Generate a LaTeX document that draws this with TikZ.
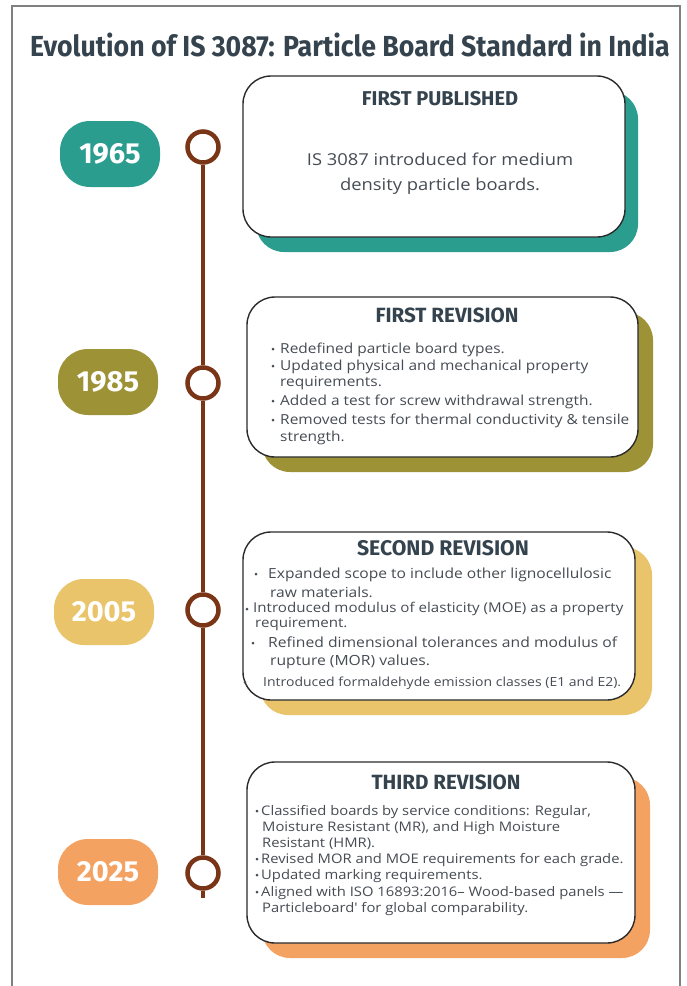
\documentclass[tikz,border=0pt]{standalone}
\usepackage{fontspec}
\usepackage{graphicx}
\setmainfont{Fira Sans}
\newfontfamily\bodyfont[FakeStretch=1.12]{Open Sans}
\definecolor{cteal}{HTML}{2A9D8F}
\definecolor{colive}{HTML}{9E9237}
\definecolor{cyellow}{HTML}{E9C46A}
\definecolor{corange}{HTML}{F4A261}
\definecolor{cbrown}{HTML}{7A3517}
\definecolor{cframe}{HTML}{808080}
\definecolor{cbody}{HTML}{464C54}
\definecolor{ctitle}{HTML}{34434D}
\definecolor{coutline}{HTML}{2B2B2B}
\tikzset{
  pill/.style={fill=#1, rounded corners=30pt, minimum width=100pt, minimum height=66pt,
    text=white, font=\fontsize{29}{32}\selectfont\bfseries, inner sep=0pt},
  tdot/.style={circle, draw=cbrown, line width=4.5pt, fill=white, minimum size=31pt, inner sep=0pt},
  tline/.style={draw=cbrown, line width=4pt},
  card/.style={draw=coutline, line width=1.4pt, rounded corners=28pt, fill=white, inner sep=0pt},
  cardshadow/.style={fill=#1, rounded corners=28pt, inner sep=0pt},
  ctit/.style={text=ctitle, font=\fontsize{#1}{#1}\selectfont\bfseries, inner sep=0pt, anchor=base},
  ln/.style={text=cbody, font=\bodyfont\fontsize{#1}{#1}\selectfont, inner sep=0pt, anchor=base west},
  cln/.style={text=cbody, font=\bodyfont\fontsize{#1}{#1}\selectfont, inner sep=0pt, anchor=base},
  bd/.style={circle, fill=cbody, minimum size=#1, inner sep=0pt},
}
\begin{document}
\begin{tikzpicture}[x=1pt,y=-1pt]
\useasboundingbox (0,0) rectangle (687,986);
\fill[white] (0,0) rectangle (687,986);
% frame
\draw[cframe, line width=2pt] (12,990) -- (12,6) -- (680,6) -- (680,990);
% title
\node[text=ctitle, inner sep=0pt, anchor=base] (title) at (350,56)
  {\scalebox{0.92}[1]{\fontsize{29}{32}\selectfont\bfseries Evolution of IS 3087: Particle Board Standard in India}};

% timeline circles
\node[tdot] (c1) at (203,147) {};
\node[tdot] (c2) at (203,383) {};
\node[tdot] (c3) at (203,610) {};
\node[tdot] (c4) at (203,873) {};
\coordinate (tail) at (203,898);
\draw[tline] (c1) -- (c2);
\draw[tline] (c2) -- (c3);
\draw[tline] (c3) -- (c4);
\draw[tline] (c4) -- (tail);

% year pills
\node[pill=cteal] (y1) at (110,154) {1965};
\node[pill=colive] (y2) at (108,382) {1985};
\node[pill=cyellow] (y3) at (104,612) {2005};
\node[pill=corange] (y4) at (108,872) {2025};

% card 1
\node[cardshadow=cteal, minimum width=382pt, minimum height=161pt] (s1) at (447,171.5) {};
\node[card, minimum width=382pt, minimum height=161pt] (k1) at (434,156.5) {};
\node[ctit=20] (h1) at (440,105) {FIRST PUBLISHED};
\node[cln=16.4] (p1a) at (440,165) {IS 3087 introduced for medium};
\node[cln=16.4] (p1b) at (440,190) {density particle boards.};

% card 2
\node[cardshadow=colive, minimum width=391pt, minimum height=160pt] (s2) at (457.5,392) {};
\node[card, minimum width=391pt, minimum height=160pt] (k2) at (442.5,377) {};
\node[ctit=20.6] (h2) at (447,322) {FIRST REVISION};
\node[bd=3pt] (d21) at (273,349) {};
\node[ln=13.8] (l21) at (280,353) {Redefined particle board types.};
\node[bd=3pt] (d22) at (273,366) {};
\node[ln=13.8] (l22) at (280,370) {Updated physical and mechanical property};
\node[ln=13.8] (l23) at (280,386) {requirements.};
\node[bd=3pt] (d23) at (273,401) {};
\node[ln=13.8] (l24) at (280,405) {Added a test for screw withdrawal strength.};
\node[bd=3pt] (d24) at (273,420) {};
\node[ln=13.8] (l25) at (280,424) {Removed tests for thermal conductivity \& tensile};
\node[ln=13.8] (l26) at (280,441) {strength.};

% card 3
\node[cardshadow=cyellow, minimum width=392pt, minimum height=168pt] (s3) at (456,631) {};
\node[card, minimum width=392pt, minimum height=168pt] (k3) at (439,616) {};
\node[ctit=21.2] (h3) at (443,555) {SECOND REVISION};
\node[bd=3pt] (d31) at (256,574) {};
\node[ln=13.9] (l31) at (268,578) {Expanded scope to include other lignocellulosic};
\node[ln=13.9] (l32) at (270,597) {raw materials.};
\node[bd=3pt] (d32) at (247,609) {};
\node[ln=13.5] (l33) at (253,612) {Introduced modulus of elasticity (MOE) as a property};
\node[ln=13.5] (l34) at (255,627) {requirement.};
\node[bd=3pt] (d33) at (253,643) {};
\node[ln=14] (l35) at (268,647) {Refined dimensional tolerances and modulus of};
\node[ln=14] (l36) at (270,665) {rupture (MOR) values.};
\node[bd=3pt] (d34) at (245,682) {};
\node[ln=12.5] (l37) at (263,686) {Introduced formaldehyde emission classes (E1 and E2).};

% card 4
\node[cardshadow=corange, minimum width=388pt, minimum height=181pt] (s4) at (456,867.5) {};
\node[card, minimum width=388pt, minimum height=181pt] (k4) at (441,852.5) {};
\node[ctit=20.6] (h4) at (446,789) {THIRD REVISION};
\node[bd=3pt] (d41) at (257,811) {};
\node[ln=13.2] (l41) at (261,815) {Classified boards by service conditions: Regular,};
\node[ln=13.2] (l42) at (262,831) {Moisture Resistant (MR), and High Moisture};
\node[ln=13.2] (l43) at (262,847) {Resistant (HMR).};
\node[bd=3pt] (d42) at (257,859) {};
\node[ln=13.2] (l44) at (261,863) {Revised MOR and MOE requirements for each grade.};
\node[bd=3pt] (d43) at (257,875) {};
\node[ln=13.2] (l45) at (261,879) {Updated marking requirements.};
\node[bd=3pt] (d44) at (257,892) {};
\node[ln=13.2] (l46) at (261,896) {Aligned with ISO 16893:2016– Wood-based panels —};
\node[ln=13.2] (l47) at (262,912) {Particleboard' for global comparability.};
\end{tikzpicture}
\end{document}
